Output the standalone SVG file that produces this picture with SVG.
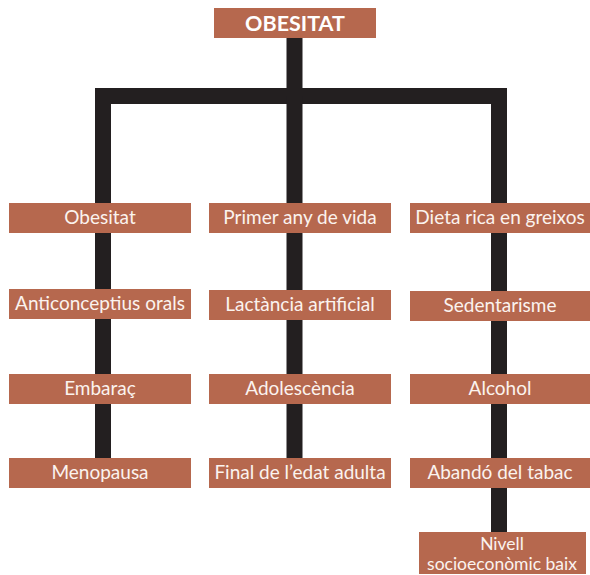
<svg xmlns="http://www.w3.org/2000/svg" width="590" height="575" viewBox="0 0 590 575">
<style>
.box{fill:#B6684E}
.t{font-family:"Lato","Open Sans","Liberation Sans",sans-serif;font-size:19px;fill:#FBF3EE;text-anchor:middle}
.n{font-size:17.5px}
.title{font-family:"Lato","Open Sans","Liberation Sans",sans-serif;font-size:21.5px;font-weight:bold;fill:#FFFFFF;text-anchor:middle}
.line{fill:none;stroke:#231F20;stroke-width:16;stroke-linejoin:miter;stroke-linecap:butt}
</style>
<rect width="590" height="575" fill="#FFFFFF"/>
<g id="connectors">
<path class="line" d="M294.5,38 V96"/>
<path class="line" d="M103,458 V96 H499 V532"/>
<path class="line" d="M294.5,96 V458"/>
</g>
<g id="n-obesitat-top"><rect class="box" x="214" y="8" width="162" height="30"/><text class="title" x="295" y="31">OBESITAT</text></g>
<g id="n-obesitat"><rect class="box" x="9" y="203" width="182" height="30"/><text class="t" x="100" y="224">Obesitat</text></g>
<g id="n-anticonceptius"><rect class="box" x="9" y="289" width="182" height="30"/><text class="t" x="100" y="310">Anticonceptius orals</text></g>
<g id="n-embarac"><rect class="box" x="9" y="374" width="182" height="30"/><text class="t" x="100" y="395">Embaraç</text></g>
<g id="n-menopausa"><rect class="box" x="9" y="458" width="182" height="30"/><text class="t" x="100" y="479">Menopausa</text></g>
<g id="n-primer-any"><rect class="box" x="209" y="203" width="182" height="30"/><text class="t" x="300" y="224">Primer any de vida</text></g>
<g id="n-lactancia"><rect class="box" x="209" y="290" width="182" height="30"/><text class="t" x="300" y="311">Lactància artificial</text></g>
<g id="n-adolescencia"><rect class="box" x="209" y="374" width="182" height="30"/><text class="t" x="300" y="395">Adolescència</text></g>
<g id="n-final-edat"><rect class="box" x="209" y="458" width="182" height="30"/><text class="t" x="300" y="479">Final de l’edat adulta</text></g>
<g id="n-dieta"><rect class="box" x="410" y="203" width="180" height="30"/><text class="t" x="500" y="224">Dieta rica en greixos</text></g>
<g id="n-sedentarisme"><rect class="box" x="410" y="291" width="180" height="30"/><text class="t" x="500" y="312">Sedentarisme</text></g>
<g id="n-alcohol"><rect class="box" x="410" y="374" width="180" height="30"/><text class="t" x="500" y="395">Alcohol</text></g>
<g id="n-abando"><rect class="box" x="410" y="458" width="180" height="30"/><text class="t" x="500" y="479">Abandó del tabac</text></g>
<g id="n-nivell"><rect class="box" x="419" y="532" width="167" height="42"/><text class="t n" x="502" y="550">Nivell</text><text class="t n" x="502" y="569.5">socioeconòmic baix</text></g>
</svg>
